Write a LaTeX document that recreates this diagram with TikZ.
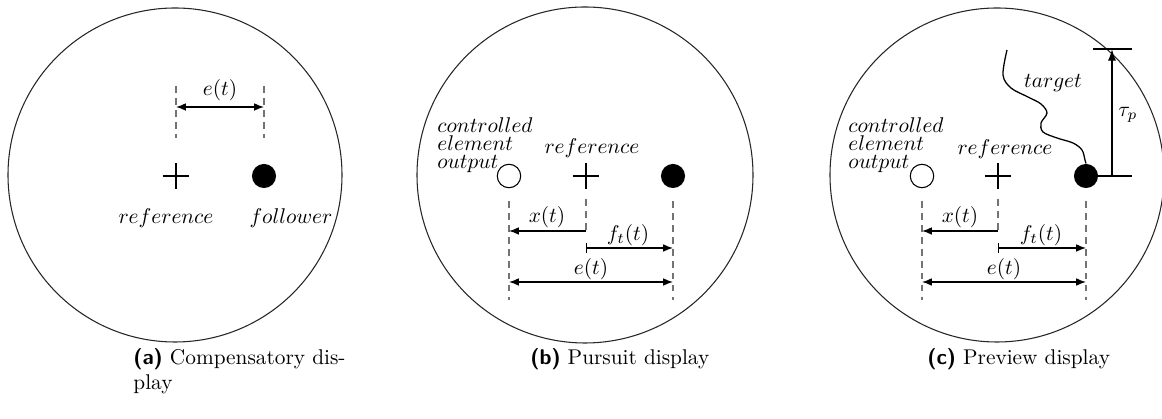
\documentclass[tikz,border=0pt]{standalone}
\usetikzlibrary{arrows.meta}
\begin{document}
\begin{tikzpicture}[x=0.469pt,y=-0.469pt,
  disp/.style={line width=0.5pt, draw=black!85},
  dashln/.style={draw=black!55, line width=0.6pt, dash pattern=on 3.2pt off 2.4pt},
  dimarr/.style={line width=0.6pt, -{Latex[length=4.6pt,width=3.6pt]}},
  dimboth/.style={line width=0.6pt, {Latex[length=4.6pt,width=3.6pt]}-{Latex[length=4.6pt,width=3.6pt]}},
  dimbar/.style={line width=0.6pt, {Bar[width=4.5pt]}-{Latex[length=4.6pt,width=3.6pt]}},
  lbl/.style={font=\fontsize{10.4}{12}\selectfont, inner sep=0pt},
  stack/.style={font=\fontsize{10.4}{8.5}\selectfont, inner sep=0pt, align=left, anchor=west},
  fdot/.style={circle, fill=black, minimum size=11.3pt, inner sep=0pt},
  odot/.style={circle, draw, line width=0.5pt, minimum size=11pt, inner sep=0pt},
  plusln/.style={line width=0.6pt},
  capt/.style={font=\fontsize{10}{12}\selectfont, inner sep=0pt, anchor=base west, align=left}
]
\useasboundingbox (0,0) rectangle (1162,419);

% ---------------- (a) ----------------
\draw[disp] (175,175) circle[radius=167];
\coordinate (refA) at (176,176);
\draw[plusln] ([xshift=-6.1pt]refA) -- ([xshift=6.1pt]refA);
\draw[plusln] ([yshift=-6.1pt]refA) -- ([yshift=6.1pt]refA);
\node[fdot] (folA) at (264,176) {};
\coordinate (a1t) at (176,86);  \coordinate (a1b) at (176,138);
\coordinate (a2t) at (264,86);  \coordinate (a2b) at (264,138);
\draw[dashln] (a1t) -- (a1b);
\draw[dashln] (a2t) -- (a2b);
\coordinate (aeL) at (176,107); \coordinate (aeR) at (264,107);
\draw[dimboth] (aeL) -- (aeR);
\node[lbl] (aeLbl) at (220,90) {$e(t)$};
\node[lbl] (refAlbl) at (166,218) {$reference$};
\node[lbl] (folAlbl) at (291,218) {$follower$};

% ---------------- (b) ----------------
\draw[disp] (585,175) circle[radius=168];
\node[odot] (outB) at (509,176) {};
\coordinate (refB) at (586,176);
\draw[plusln] ([xshift=-6.1pt]refB) -- ([xshift=6.1pt]refB);
\draw[plusln] ([yshift=-6.1pt]refB) -- ([yshift=6.1pt]refB);
\node[fdot] (folB) at (673,176) {};
\coordinate (b1t) at (509,201); \coordinate (b1b) at (509,300);
\coordinate (b2t) at (586,199); \coordinate (b2b) at (586,231);
\coordinate (b3t) at (673,201); \coordinate (b3b) at (673,300);
\draw[dashln] (b1t) -- (b1b);
\draw[dashln] (b2t) -- (b2b);
\draw[dashln] (b3t) -- (b3b);
\coordinate (bxR) at (586,231); \coordinate (bxL) at (509,231);
\draw[dimarr] (bxR) -- (bxL);
\coordinate (bfL) at (586,248); \coordinate (bfR) at (673,248);
\draw[dimbar] (bfL) -- (bfR);
\coordinate (beL) at (509,282); \coordinate (beR) at (673,282);
\draw[dimboth] (beL) -- (beR);
\node[lbl] (bxLbl) at (547,217) {$x(t)$};
\node[lbl] (bfLbl) at (628,235) {$f_t(t)$};
\node[lbl] (beLbl) at (591,269) {$e(t)$};
\node[stack] (ceB) at (437,145) {$controlled$\\$element$\\$output$};
\node[lbl] (refBlbl) at (592,148) {$reference$};

% ---------------- (c) ----------------
\draw[disp] (997,175) circle[radius=167];
\node[odot] (outC) at (922,176) {};
\coordinate (refC) at (998,176);
\draw[plusln] ([xshift=-6.1pt]refC) -- ([xshift=6.1pt]refC);
\draw[plusln] ([yshift=-6.1pt]refC) -- ([yshift=6.1pt]refC);
\node[fdot] (folC) at (1086,176) {};
\coordinate (c1t) at (922,201); \coordinate (c1b) at (922,300);
\coordinate (c2t) at (998,199); \coordinate (c2b) at (998,231);
\coordinate (c3t) at (1086,201); \coordinate (c3b) at (1086,300);
\draw[dashln] (c1t) -- (c1b);
\draw[dashln] (c2t) -- (c2b);
\draw[dashln] (c3t) -- (c3b);
\coordinate (cxR) at (998,231); \coordinate (cxL) at (922,231);
\draw[dimarr] (cxR) -- (cxL);
\coordinate (cfL) at (998,248); \coordinate (cfR) at (1086,248);
\draw[dimbar] (cfL) -- (cfR);
\coordinate (ceL) at (922,282); \coordinate (ceR) at (1086,282);
\draw[dimboth] (ceL) -- (ceR);
\node[lbl] (cxLbl) at (960,217) {$x(t)$};
\node[lbl] (cfLbl) at (1041,235) {$f_t(t)$};
\node[lbl] (ceLbl) at (1004,269) {$e(t)$};
\node[stack] (ceC) at (848,145) {$controlled$\\$element$\\$output$};
\node[lbl] (refClbl) at (1005,149) {$reference$};
% target trace
\draw[line width=0.6pt] plot[smooth, tension=0.55] coordinates {(1007,50) (1003,75) (1011,88) (1028,97) (1041,104) (1047,113) (1041,123) (1043,132) (1057,138) (1073,143) (1082,150) (1085,160) (folC.north)};
\node[lbl] (tgt) at (1053,83) {$target$};
% preview time
\coordinate (tauTop) at (1112,49); \coordinate (tauBot) at (1112,176);
\coordinate (tkTL) at (1093,49); \coordinate (tkTR) at (1132,49);
\coordinate (tkBR) at (1132,176);
\draw[line width=0.6pt] (tkTL) -- (tkTR);
\draw[line width=0.6pt] (folC.east) -- (tkBR);
\draw[line width=0.6pt, -{Latex[length=5.5pt,width=3.8pt]}] (tauBot) -- (tauTop);
\node[lbl] (tauLbl) at (1128,115) {$\tau_p$};

% ---------------- captions ----------------
\node[capt] (capA) at (133,390) {{\sffamily\bfseries (a)} Compensatory dis-\\play};
\node[capt] (capB) at (530,365) {{\sffamily\bfseries (b)} Pursuit display};
\node[capt] (capC) at (927,365) {{\sffamily\bfseries (c)} Preview display};
\end{tikzpicture}
\end{document}
